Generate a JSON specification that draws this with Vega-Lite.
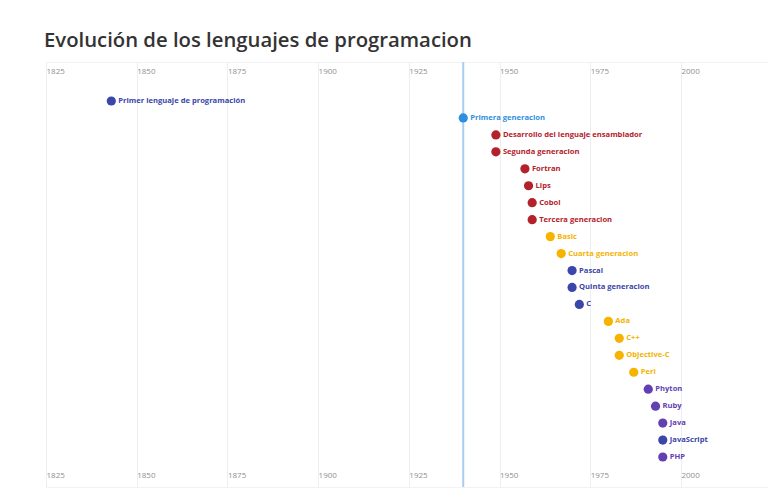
{
  "$schema": "https://vega.github.io/schema/vega-lite/v6.json",
  "width": 722,
  "height": 425,
  "autosize": "none",
  "padding": {"left": 46, "top": 62, "right": 0, "bottom": 8},
  "background": "white",
  "title": {
    "text": "Evolución de los lenguajes de programacion",
    "anchor": "start",
    "frame": "group",
    "font": "Open Sans",
    "fontSize": 20.3,
    "fontWeight": 600,
    "color": "#333333",
    "offset": 10,
    "dx": -2
  },
  "config": {
    "view": {"stroke": "#f2f2f2"},
    "axis": {"labelFont": "Open Sans", "labelFontSize": 8, "labelColor": "#8f8f8f"}
  },
  "data": {
    "values": [
      {"evento": "Primer lenguaje de programación", "anio": 1843, "grupo": "g1"},
      {"evento": "Primera generacion", "anio": 1940, "grupo": "g2"},
      {"evento": "Desarrollo del lenguaje ensamblador", "anio": 1949, "grupo": "g3"},
      {"evento": "Segunda generacion", "anio": 1949, "grupo": "g3"},
      {"evento": "Fortran", "anio": 1957, "grupo": "g3"},
      {"evento": "Lips", "anio": 1958, "grupo": "g3"},
      {"evento": "Cobol", "anio": 1959, "grupo": "g3"},
      {"evento": "Tercera generacion", "anio": 1959, "grupo": "g3"},
      {"evento": "Basic", "anio": 1964, "grupo": "g4"},
      {"evento": "Cuarta generacion", "anio": 1967, "grupo": "g4"},
      {"evento": "Pascal", "anio": 1970, "grupo": "g1"},
      {"evento": "Quinta generacion", "anio": 1970, "grupo": "g1"},
      {"evento": "C", "anio": 1972, "grupo": "g1"},
      {"evento": "Ada", "anio": 1980, "grupo": "g4"},
      {"evento": "C++", "anio": 1983, "grupo": "g4"},
      {"evento": "Objective-C", "anio": 1983, "grupo": "g4"},
      {"evento": "Perl", "anio": 1987, "grupo": "g4"},
      {"evento": "Phyton", "anio": 1991, "grupo": "g5"},
      {"evento": "Ruby", "anio": 1993, "grupo": "g5"},
      {"evento": "Java", "anio": 1995, "grupo": "g5"},
      {"evento": "JavaScript", "anio": 1995, "grupo": "g1"},
      {"evento": "PHP", "anio": 1995, "grupo": "g5"}
    ]
  },
  "resolve": {"scale": {"y": "independent"}},
  "layer": [
    {
      "mark": {"type": "rule", "color": "#a8cdef", "strokeWidth": 2},
      "transform": [{"filter": "datum.evento === 'Primera generacion'"}],
      "encoding": {
        "x": {"field": "anio", "type": "quantitative", "scale": {"domain": [1825, 2024], "nice": false, "zero": false},
          "axis": {"orient": "top", "values": [1825, 1850, 1875, 1900, 1925, 1950, 1975, 2000], "format": "d", "title": null, "domain": false, "ticks": false, "labelAlign": "left", "labelPadding": 2, "offset": -15, "labelDx": 4, "grid": true, "gridColor": "#eeeeee"}}
      }
    },
    {
      "mark": {"type": "circle", "size": 85, "opacity": 1},
      "encoding": {
        "x": {"field": "anio", "type": "quantitative", "scale": {"domain": [1825, 2024], "nice": false, "zero": false}, "axis": null},
        "y": {"field": "evento", "type": "ordinal", "sort": null, "scale": {"type": "point", "padding": 0, "range": [39, 395]}, "axis": null},
        "color": {"field": "grupo", "type": "nominal", "legend": null,
          "scale": {"domain": ["g1", "g2", "g3", "g4", "g5"], "range": ["#3a46a8", "#2d8fe0", "#b3212b", "#f6b300", "#6140b4"]}}
      }
    },
    {
      "mark": {"type": "text", "align": "left", "baseline": "middle", "dx": 7, "font": "Open Sans", "fontSize": 7.6, "fontWeight": "bold"},
      "encoding": {
        "x": {"field": "anio", "type": "quantitative", "scale": {"domain": [1825, 2024], "nice": false, "zero": false},
          "axis": {"orient": "bottom", "values": [1825, 1850, 1875, 1900, 1925, 1950, 1975, 2000], "format": "d", "title": null, "domain": false, "ticks": false, "labelAlign": "left", "labelPadding": 2, "offset": -18, "labelDx": 4, "grid": false}},
        "y": {"field": "evento", "type": "ordinal", "sort": null, "scale": {"type": "point", "padding": 0, "range": [39, 395]}, "axis": null},
        "text": {"field": "evento"},
        "color": {"field": "grupo", "type": "nominal", "legend": null,
          "scale": {"domain": ["g1", "g2", "g3", "g4", "g5"], "range": ["#3a46a8", "#2d8fe0", "#b3212b", "#f6b300", "#6140b4"]}}
      }
    }
  ]
}
